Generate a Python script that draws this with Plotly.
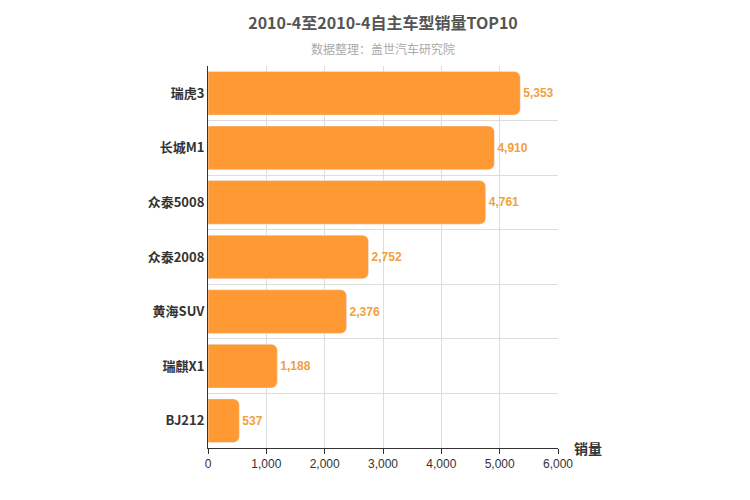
import plotly.graph_objects as go

models = ["瑞虎3", "长城M1", "众泰5008", "众泰2008", "黄海SUV", "瑞麒X1", "BJ212"]
sales = [5353, 4910, 4761, 2752, 2376, 1188, 537]

# reverse so the top seller is drawn at the top
names = models[::-1]
vals = sales[::-1]
pos = list(range(len(names)))

fig = go.Figure(go.Bar(
    x=vals, y=pos, orientation="h", width=0.8,
    marker=dict(color="#FF9933", cornerradius=6),
    text=[f"<b>{v:,}</b>" for v in vals], textposition="outside",
    textfont=dict(color="#F0A040", size=12, family="Arial"),
    cliponaxis=False,
))

fig.update_layout(
    width=750, height=500,
    plot_bgcolor="white", paper_bgcolor="white",
    margin=dict(l=200, r=200, t=58, b=60),
    font=dict(family="Noto Sans CJK SC, Arial", color="#333"),
    title=dict(text="<b>2010-4至2010-4自主车型销量TOP10</b>", x=0.5, xanchor="center",
               y=0.97, yanchor="middle", font=dict(size=16, color="#555")),
    showlegend=False,
    annotations=[
        dict(text="数据整理：盖世汽车研究院", x=0.5, xref="paper", y=1.045, yref="paper",
             yanchor="middle", showarrow=False, font=dict(size=12, color="#AAA")),
        dict(text="<b>销量</b>", xref="paper", yref="paper", x=1.04, y=0, xanchor="left",
             yanchor="middle", showarrow=False, font=dict(size=14, color="#333")),
    ],
)

fig.update_xaxes(range=[0, 6000], dtick=1000, tickformat=",", showgrid=True,
                 gridcolor="#DDD", showline=True, linecolor="#333", ticks="outside",
                 ticklen=5, tickcolor="#333", tickfont=dict(size=12, family="Arial"),
                 zeroline=False, automargin=False)
fig.update_yaxes(range=[-0.5, len(names) - 0.5], tickvals=pos,
                 ticktext=[f"<b>{n}</b>" for n in names],
                 showgrid=False, showline=True, linecolor="#333", zeroline=False,
                 tickfont=dict(size=13, color="#333"), automargin=False,
                 minor=dict(tick0=0.5, dtick=1, showgrid=True, gridcolor="#DDD"))

fig.write_html("out.html")
